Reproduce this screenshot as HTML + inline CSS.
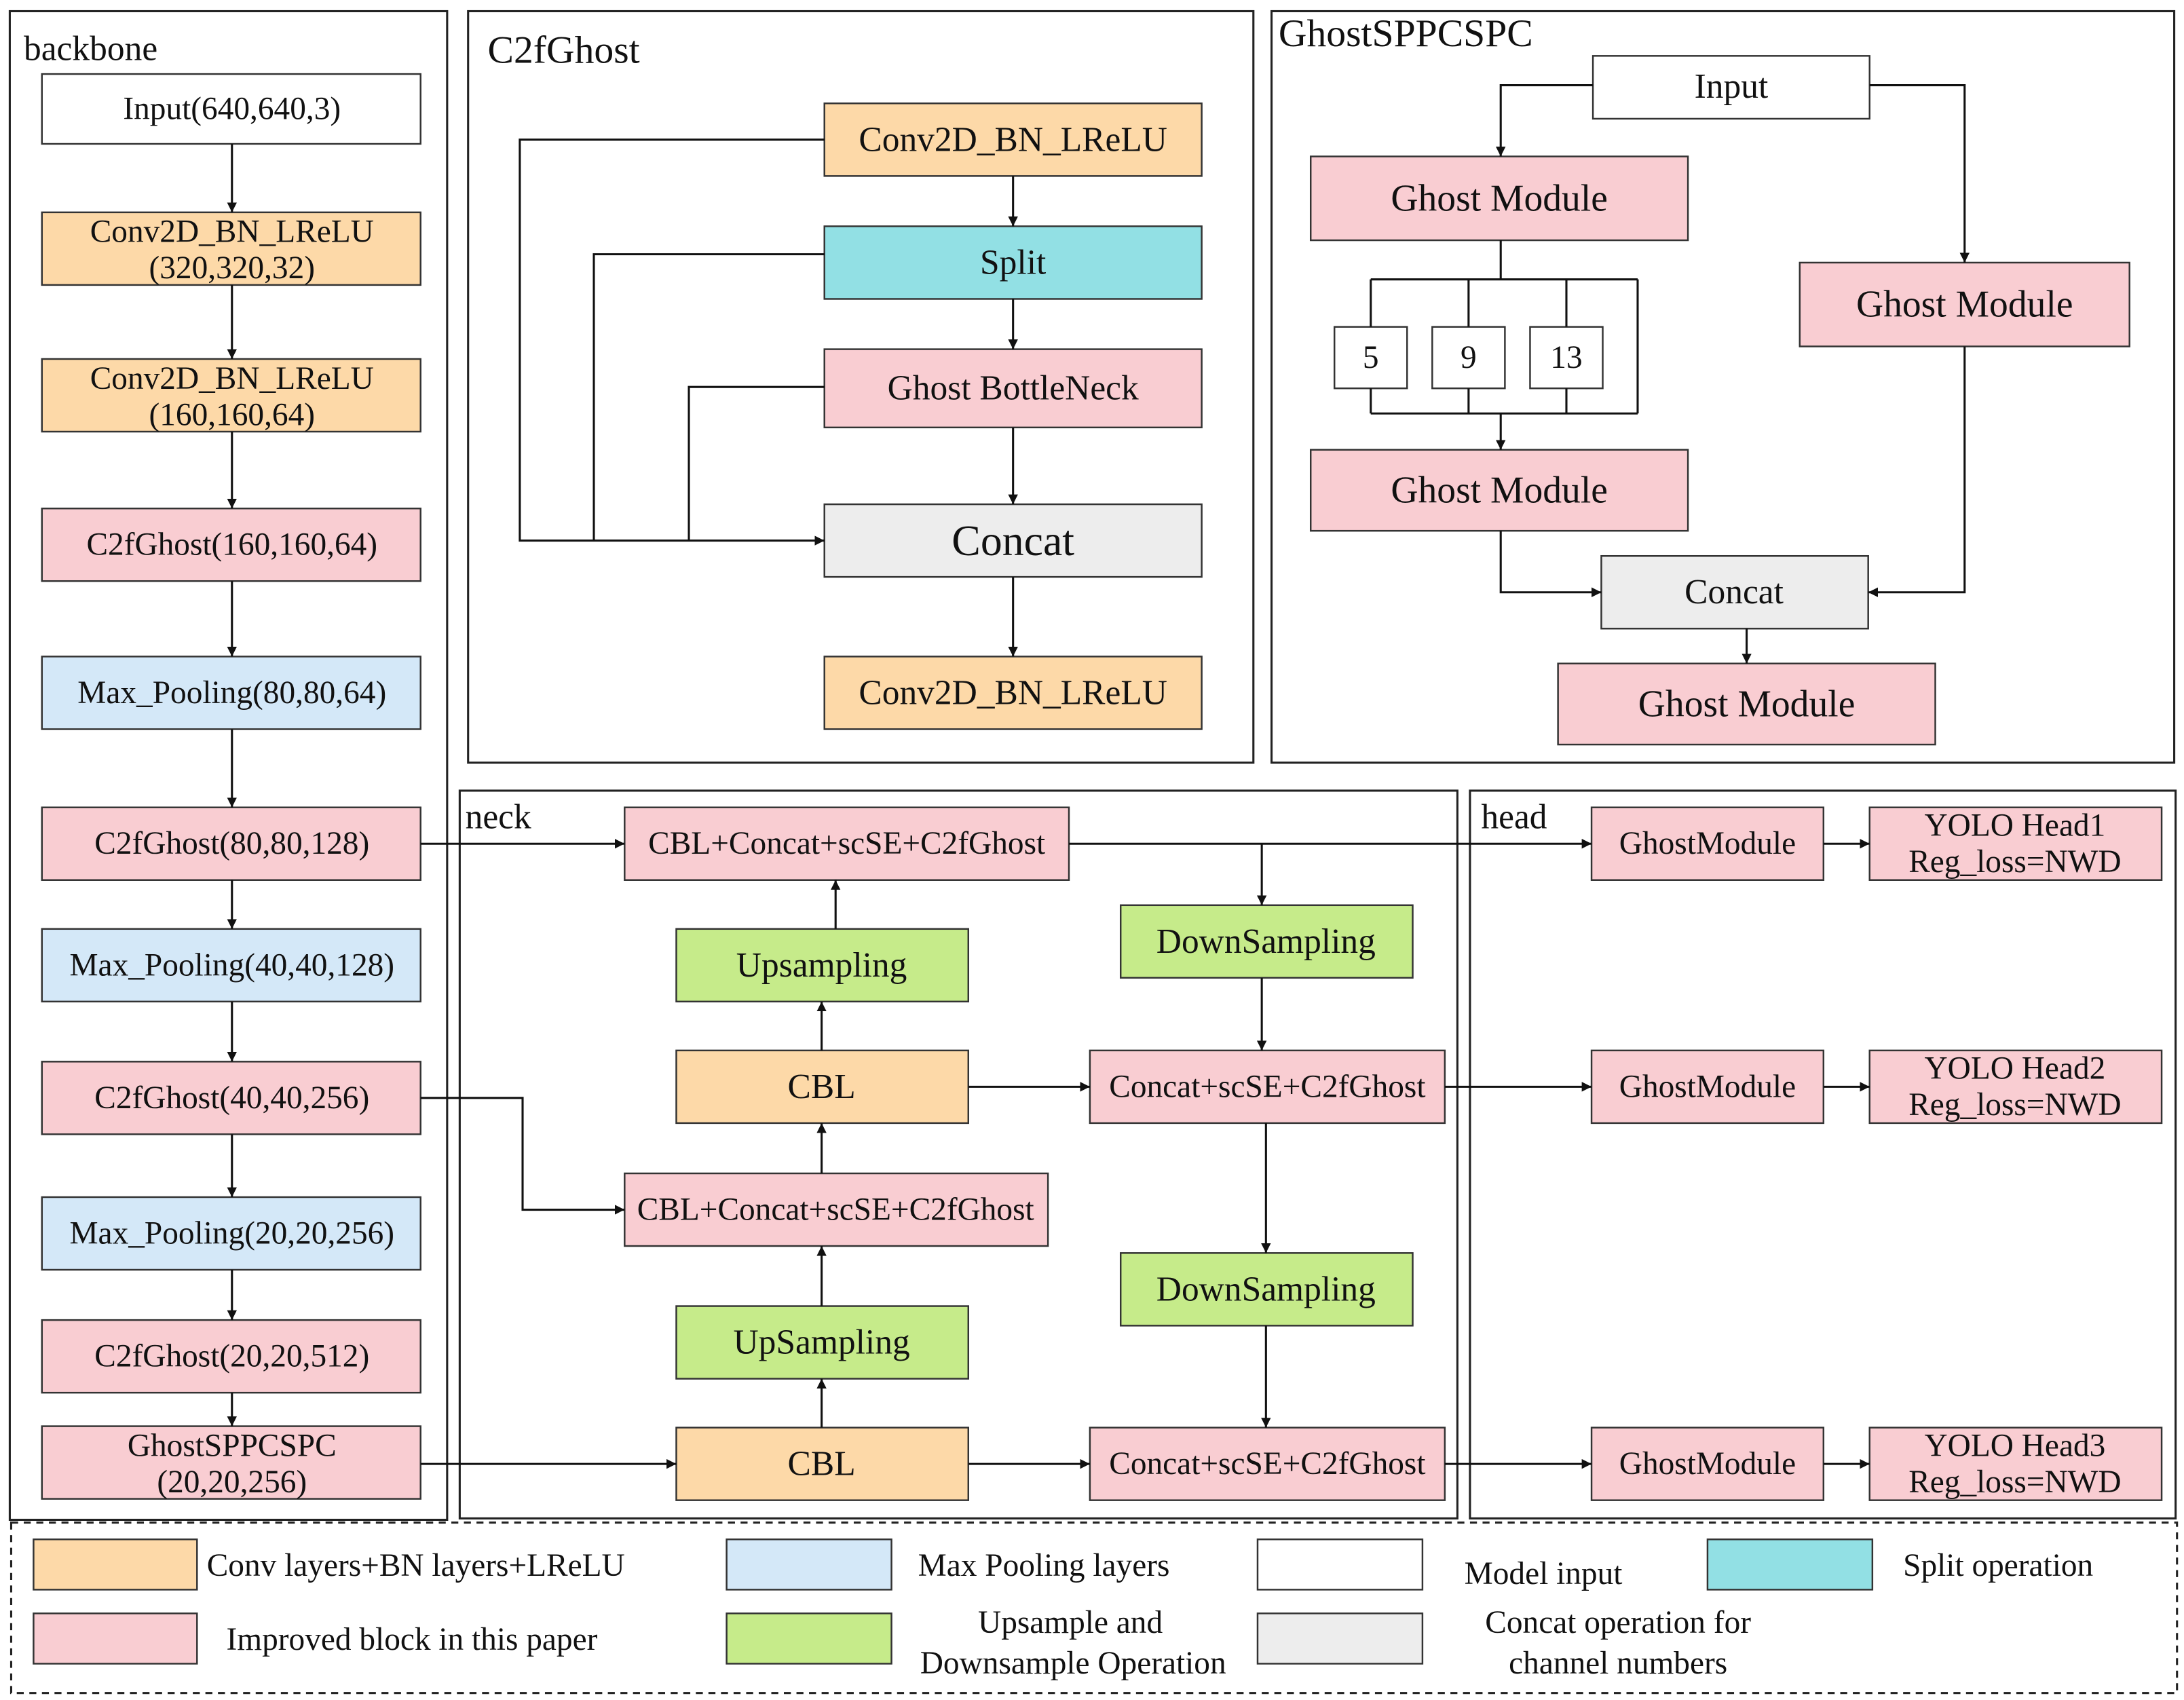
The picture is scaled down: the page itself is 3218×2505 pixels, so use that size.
<!DOCTYPE html>
<html><head><meta charset="utf-8"><style>
html,body{margin:0;padding:0;background:#fff;}
svg{display:block;}
text{font-family:"Liberation Serif",serif;fill:#111;}
</style></head><body>
<svg width="3218" height="2505" viewBox="0 0 1563 1217" preserveAspectRatio="none" xmlns="http://www.w3.org/2000/svg">
<defs>
<marker id="a" viewBox="0 0 10 10" refX="10" refY="5" markerWidth="7" markerHeight="7" orient="auto-start-reverse" markerUnits="userSpaceOnUse"><path d="M0,0 L10,5 L0,10 z" fill="#111"/></marker>
</defs>
<rect width="1563" height="1217" fill="#fff"/>
<g fill="none" stroke="#222" stroke-width="1.5">
<rect x="7" y="8" width="313" height="1080"/>
<rect x="335" y="8" width="562" height="538"/>
<rect x="910" y="8" width="646" height="538"/>
<rect x="329" y="566" width="714" height="521"/>
<rect x="1052" y="566" width="505" height="521"/>
<rect x="8" y="1090" width="1550" height="122" stroke-dasharray="5,4"/>
</g>
<g font-size="25">
<text x="17" y="43">backbone</text>
<text x="349" y="45" font-size="28">C2fGhost</text>
<text x="915" y="33" font-size="28">GhostSPPCSPC</text>
<text x="333" y="593">neck</text>
<text x="1060" y="593">head</text>
</g>
<g stroke="#333" stroke-width="1.2">
<!-- backbone -->
<rect x="30" y="53" width="271" height="50" fill="#fff"/>
<rect x="30" y="152" width="271" height="52" fill="#FDD9A8"/>
<rect x="30" y="257" width="271" height="52" fill="#FDD9A8"/>
<rect x="30" y="364" width="271" height="52" fill="#F9CDD2"/>
<rect x="30" y="470" width="271" height="52" fill="#D4E8F8"/>
<rect x="30" y="578" width="271" height="52" fill="#F9CDD2"/>
<rect x="30" y="665" width="271" height="52" fill="#D4E8F8"/>
<rect x="30" y="760" width="271" height="52" fill="#F9CDD2"/>
<rect x="30" y="857" width="271" height="52" fill="#D4E8F8"/>
<rect x="30" y="945" width="271" height="52" fill="#F9CDD2"/>
<rect x="30" y="1021" width="271" height="52" fill="#F9CDD2"/>
<!-- C2fGhost -->
<rect x="590" y="74" width="270" height="52" fill="#FDD9A8"/>
<rect x="590" y="162" width="270" height="52" fill="#92E0E4"/>
<rect x="590" y="250" width="270" height="56" fill="#F9CDD2"/>
<rect x="590" y="361" width="270" height="52" fill="#EDEDED"/>
<rect x="590" y="470" width="270" height="52" fill="#FDD9A8"/>
<!-- SPPCSPC -->
<rect x="1140" y="40" width="198" height="45" fill="#fff"/>
<rect x="938" y="112" width="270" height="60" fill="#F9CDD2"/>
<rect x="1288" y="188" width="236" height="60" fill="#F9CDD2"/>
<rect x="955" y="234" width="52" height="44" fill="#fff"/>
<rect x="1025" y="234" width="52" height="44" fill="#fff"/>
<rect x="1095" y="234" width="52" height="44" fill="#fff"/>
<rect x="938" y="322" width="270" height="58" fill="#F9CDD2"/>
<rect x="1146" y="398" width="191" height="52" fill="#EDEDED"/>
<rect x="1115" y="475" width="270" height="58" fill="#F9CDD2"/>
<!-- neck -->
<rect x="447" y="578" width="318" height="52" fill="#F9CDD2"/>
<rect x="484" y="665" width="209" height="52" fill="#C6EB8A"/>
<rect x="484" y="752" width="209" height="52" fill="#FDD9A8"/>
<rect x="447" y="840" width="303" height="52" fill="#F9CDD2"/>
<rect x="484" y="935" width="209" height="52" fill="#C6EB8A"/>
<rect x="484" y="1022" width="209" height="52" fill="#FDD9A8"/>
<rect x="802" y="648" width="209" height="52" fill="#C6EB8A"/>
<rect x="780" y="752" width="254" height="52" fill="#F9CDD2"/>
<rect x="802" y="897" width="209" height="52" fill="#C6EB8A"/>
<rect x="780" y="1022" width="254" height="52" fill="#F9CDD2"/>
<!-- head -->
<rect x="1139" y="578" width="166" height="52" fill="#F9CDD2"/>
<rect x="1139" y="752" width="166" height="52" fill="#F9CDD2"/>
<rect x="1139" y="1022" width="166" height="52" fill="#F9CDD2"/>
<rect x="1338" y="578" width="209" height="52" fill="#F9CDD2"/>
<rect x="1338" y="752" width="209" height="52" fill="#F9CDD2"/>
<rect x="1338" y="1022" width="209" height="52" fill="#F9CDD2"/>
<!-- legend -->
<rect x="24" y="1102" width="117" height="36" fill="#FDD9A8"/>
<rect x="520" y="1102" width="118" height="36" fill="#D4E8F8"/>
<rect x="900" y="1102" width="118" height="36" fill="#fff"/>
<rect x="1222" y="1102" width="118" height="36" fill="#92E0E4"/>
<rect x="24" y="1155" width="117" height="36" fill="#F9CDD2"/>
<rect x="520" y="1155" width="118" height="36" fill="#C6EB8A"/>
<rect x="900" y="1155" width="118" height="36" fill="#EDEDED"/>
</g>
<g fill="none" stroke="#111" stroke-width="1.5">
<!-- backbone arrows -->
<line x1="166" y1="103" x2="166" y2="152" marker-end="url(#a)"/>
<line x1="166" y1="204" x2="166" y2="257" marker-end="url(#a)"/>
<line x1="166" y1="309" x2="166" y2="364" marker-end="url(#a)"/>
<line x1="166" y1="416" x2="166" y2="470" marker-end="url(#a)"/>
<line x1="166" y1="522" x2="166" y2="578" marker-end="url(#a)"/>
<line x1="166" y1="630" x2="166" y2="665" marker-end="url(#a)"/>
<line x1="166" y1="717" x2="166" y2="760" marker-end="url(#a)"/>
<line x1="166" y1="812" x2="166" y2="857" marker-end="url(#a)"/>
<line x1="166" y1="909" x2="166" y2="945" marker-end="url(#a)"/>
<line x1="166" y1="997" x2="166" y2="1021" marker-end="url(#a)"/>
<!-- C2fGhost -->
<line x1="725" y1="126" x2="725" y2="162" marker-end="url(#a)"/>
<line x1="725" y1="214" x2="725" y2="250" marker-end="url(#a)"/>
<line x1="725" y1="306" x2="725" y2="361" marker-end="url(#a)"/>
<line x1="725" y1="413" x2="725" y2="470" marker-end="url(#a)"/>
<polyline points="590,100 372,100 372,387 590,387" marker-end="url(#a)"/>
<polyline points="590,182 425,182 425,387"/>
<polyline points="590,277 493,277 493,387"/>
<!-- SPPCSPC -->
<polyline points="1140,61 1074,61 1074,112" marker-end="url(#a)"/>
<polyline points="1338,61 1406,61 1406,188" marker-end="url(#a)"/>
<line x1="1074" y1="172" x2="1074" y2="200"/>
<line x1="981" y1="200" x2="1172" y2="200"/>
<line x1="981" y1="296" x2="1172" y2="296"/>
<line x1="981" y1="200" x2="981" y2="234"/><line x1="981" y1="278" x2="981" y2="296"/>
<line x1="1051" y1="200" x2="1051" y2="234"/><line x1="1051" y1="278" x2="1051" y2="296"/>
<line x1="1121" y1="200" x2="1121" y2="234"/><line x1="1121" y1="278" x2="1121" y2="296"/>
<line x1="1172" y1="200" x2="1172" y2="296"/>
<line x1="1074" y1="296" x2="1074" y2="322" marker-end="url(#a)"/>
<polyline points="1074,380 1074,424 1146,424" marker-end="url(#a)"/>
<polyline points="1406,248 1406,424 1337,424" marker-end="url(#a)"/>
<line x1="1250" y1="450" x2="1250" y2="475" marker-end="url(#a)"/>
<!-- neck -->
<line x1="301" y1="604" x2="447" y2="604" marker-end="url(#a)"/>
<polyline points="301,786 374,786 374,866 447,866" marker-end="url(#a)"/>
<line x1="301" y1="1048" x2="484" y2="1048" marker-end="url(#a)"/>
<line x1="588" y1="1022" x2="588" y2="987" marker-end="url(#a)"/>
<line x1="588" y1="935" x2="588" y2="892" marker-end="url(#a)"/>
<line x1="588" y1="840" x2="588" y2="804" marker-end="url(#a)"/>
<line x1="588" y1="752" x2="588" y2="717" marker-end="url(#a)"/>
<line x1="598" y1="665" x2="598" y2="630" marker-end="url(#a)"/>
<line x1="765" y1="604" x2="1139" y2="604" marker-end="url(#a)"/>
<line x1="903" y1="604" x2="903" y2="648" marker-end="url(#a)"/>
<line x1="903" y1="700" x2="903" y2="752" marker-end="url(#a)"/>
<line x1="693" y1="778" x2="780" y2="778" marker-end="url(#a)"/>
<line x1="1034" y1="778" x2="1139" y2="778" marker-end="url(#a)"/>
<line x1="906" y1="804" x2="906" y2="897" marker-end="url(#a)"/>
<line x1="906" y1="949" x2="906" y2="1022" marker-end="url(#a)"/>
<line x1="693" y1="1048" x2="780" y2="1048" marker-end="url(#a)"/>
<line x1="1034" y1="1048" x2="1139" y2="1048" marker-end="url(#a)"/>
<line x1="1305" y1="604" x2="1338" y2="604" marker-end="url(#a)"/>
<line x1="1305" y1="778" x2="1338" y2="778" marker-end="url(#a)"/>
<line x1="1305" y1="1048" x2="1338" y2="1048" marker-end="url(#a)"/>
</g>
<g font-size="23" text-anchor="middle" dominant-baseline="central">
<text x="166" y="78">Input(640,640,3)</text>
<text x="166" y="166">Conv2D_BN_LReLU</text><text x="166" y="192">(320,320,32)</text>
<text x="166" y="271">Conv2D_BN_LReLU</text><text x="166" y="297">(160,160,64)</text>
<text x="166" y="390">C2fGhost(160,160,64)</text>
<text x="166" y="496">Max_Pooling(80,80,64)</text>
<text x="166" y="604">C2fGhost(80,80,128)</text>
<text x="166" y="691">Max_Pooling(40,40,128)</text>
<text x="166" y="786">C2fGhost(40,40,256)</text>
<text x="166" y="883">Max_Pooling(20,20,256)</text>
<text x="166" y="971">C2fGhost(20,20,512)</text>
<text x="166" y="1035">GhostSPPCSPC</text><text x="166" y="1061">(20,20,256)</text>
<text x="725" y="100" font-size="25">Conv2D_BN_LReLU</text>
<text x="725" y="188" font-size="25">Split</text>
<text x="725" y="278" font-size="25">Ghost BottleNeck</text>
<text x="725" y="387" font-size="31">Concat</text>
<text x="725" y="496" font-size="25">Conv2D_BN_LReLU</text>
<text x="1239" y="62" font-size="25">Input</text>
<text x="1073" y="142" font-size="27">Ghost Module</text>
<text x="1406" y="218" font-size="27">Ghost Module</text>
<text x="981" y="256">5</text><text x="1051" y="256">9</text><text x="1121" y="256">13</text>
<text x="1073" y="351" font-size="27">Ghost Module</text>
<text x="1241" y="424" font-size="25">Concat</text>
<text x="1250" y="504" font-size="27">Ghost Module</text>
<text x="606" y="604">CBL+Concat+scSE+C2fGhost</text>
<text x="588" y="691" font-size="25">Upsampling</text>
<text x="588" y="778" font-size="25">CBL</text>
<text x="598" y="866">CBL+Concat+scSE+C2fGhost</text>
<text x="588" y="961" font-size="25">UpSampling</text>
<text x="588" y="1048" font-size="25">CBL</text>
<text x="906" y="674" font-size="25">DownSampling</text>
<text x="907" y="778">Concat+scSE+C2fGhost</text>
<text x="906" y="923" font-size="25">DownSampling</text>
<text x="907" y="1048">Concat+scSE+C2fGhost</text>
<text x="1222" y="604">GhostModule</text>
<text x="1222" y="778">GhostModule</text>
<text x="1222" y="1048">GhostModule</text>
<text x="1442" y="591">YOLO Head1</text><text x="1442" y="617">Reg_loss=NWD</text>
<text x="1442" y="765">YOLO Head2</text><text x="1442" y="791">Reg_loss=NWD</text>
<text x="1442" y="1035">YOLO Head3</text><text x="1442" y="1061">Reg_loss=NWD</text>
</g>
<g font-size="23">
<text x="148" y="1128">Conv layers+BN layers+LReLU</text>
<text x="657" y="1128">Max Pooling layers</text>
<text x="1048" y="1134">Model input</text>
<text x="1362" y="1128">Split operation</text>
<text x="162" y="1181">Improved block in this paper</text>
<text x="766" y="1169" text-anchor="middle">Upsample and</text>
<text x="768" y="1198" text-anchor="middle">Downsample Operation</text>
<text x="1158" y="1169" text-anchor="middle">Concat operation for</text>
<text x="1158" y="1198" text-anchor="middle">channel numbers</text>
</g>
</svg>
</body></html>
